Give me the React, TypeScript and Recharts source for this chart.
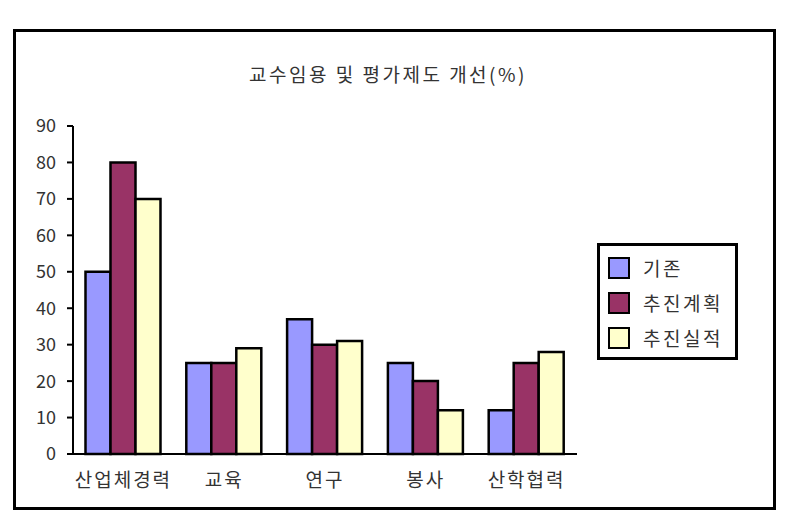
import React from 'react';
import { BarChart, Bar, XAxis, YAxis, Legend } from 'recharts';

const categories = ['산업체경력', '교육', '연구', '봉사', '산학협력'];
const baseline = [50, 25, 37, 25, 12];
const plan = [80, 25, 30, 20, 25];
const actual = [70, 29, 31, 12, 28];
const yTicks = [0, 10, 20, 30, 40, 50, 60, 70, 80, 90];
const seriesNames = ['기존', '추진계획', '추진실적'];
const colors = ['#9999FF', '#993366', '#FFFFCC'];

const data = categories.map((c, i) => ({ name: c, a: baseline[i], b: plan[i], c: actual[i] }));

const FONT = '"Noto Sans CJK KR", "Noto Sans", sans-serif';

const LegendContent = () => (
  <div style={{ border: '3px solid #000', width: 141, height: 117, boxSizing: 'border-box', background: '#fff', padding: '4px 0 0 8px', fontFamily: FONT }}>
    {seriesNames.map((n, i) => (
      <div key={n} style={{ display: 'flex', alignItems: 'center', height: 35 }}>
        <div style={{ width: 22, height: 22, background: colors[i], border: '2px solid #000', boxSizing: 'border-box' }} />
        <span style={{ marginLeft: 13, fontSize: 19, letterSpacing: 2.5, color: '#333' }}>{n}</span>
      </div>
    ))}
  </div>
);

export default function App() {
  return (
    <div style={{ position: 'absolute', left: 0, top: 0, width: 789, height: 522, background: '#fff' }}>
      <div style={{ position: 'absolute', left: 13, top: 29, width: 763, height: 481, border: '3px solid #000', boxSizing: 'border-box' }} />
      <div style={{ position: 'absolute', left: 0, width: 776, top: 60, textAlign: 'center', fontFamily: FONT, fontSize: 19, letterSpacing: 2.5, color: '#333' }}>
        교수임용 및 평가제도 개선(%)
      </div>
      <div style={{ position: 'absolute', left: 0, top: 0 }}>
        <BarChart width={789} height={522} data={data} margin={{ top: 126, right: 212, bottom: 38, left: 0 }} barCategoryGap="12.4%" barGap={0}>
          <XAxis dataKey="name" axisLine={{ stroke: '#000', strokeWidth: 2 }} tickLine={false} height={30} tick={{ fill: '#333', fontSize: 19, letterSpacing: 2, fontFamily: FONT }} tickMargin={14} />
          <YAxis width={73} domain={[0, 90]} ticks={yTicks} interval={0} axisLine={{ stroke: '#000', strokeWidth: 2 }} tickLine={{ stroke: '#000', strokeWidth: 2 }} tickSize={6} tick={{ fill: '#333', fontSize: 18, fontFamily: FONT }} tickMargin={11} />
          <Legend layout="vertical" verticalAlign="middle" align="center" wrapperStyle={{ left: 597, top: 243, width: 141 }} content={<LegendContent />} />
          <Bar dataKey="a" name={seriesNames[0]} fill={colors[0]} stroke="#000" strokeWidth={2.5} isAnimationActive={false} />
          <Bar dataKey="b" name={seriesNames[1]} fill={colors[1]} stroke="#000" strokeWidth={2.5} isAnimationActive={false} />
          <Bar dataKey="c" name={seriesNames[2]} fill={colors[2]} stroke="#000" strokeWidth={2.5} isAnimationActive={false} />
        </BarChart>
      </div>
    </div>
  );
}
